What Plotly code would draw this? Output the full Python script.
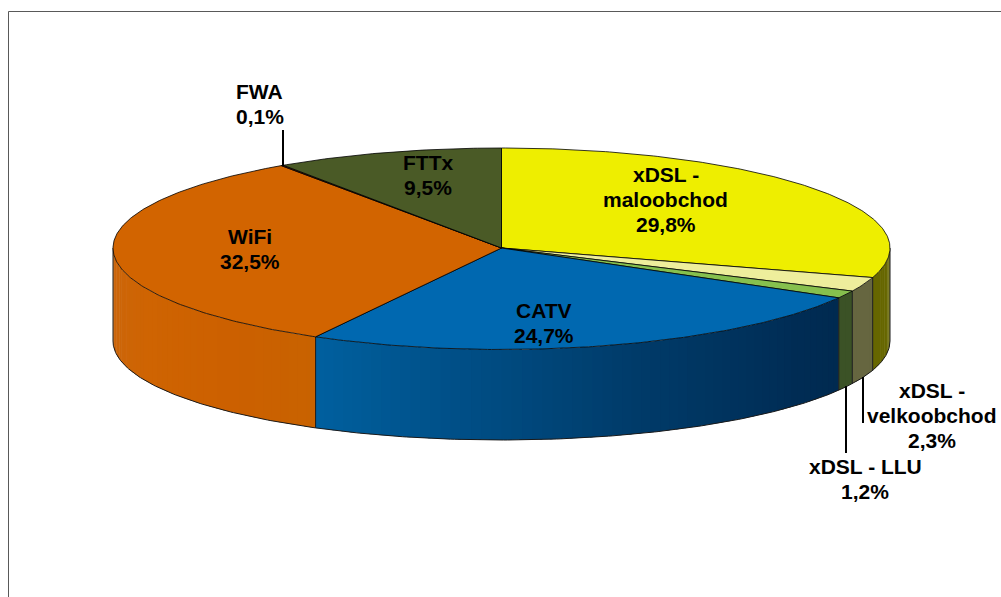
import numpy as np
import plotly.graph_objects as go

# --- data -----------------------------------------------------------------
categories = ["xDSL - maloobchod", "xDSL - velkoobchod", "xDSL - LLU", "CATV", "WiFi", "FWA", "FTTx"]
values = [29.8, 2.3, 1.2, 24.7, 32.5, 0.1, 9.5]
label_lines = [["xDSL -", "maloobchod"], ["xDSL -", "velkoobchod"], ["xDSL - LLU"], ["CATV"], ["WiFi"], ["FWA"], ["FTTx"]]

# --- style / layout -------------------------------------------------------
top_colors = ["#EEEE00", "#EEEE9C", "#86C04E", "#0068B0", "#D26400", "#8B1A00", "#4A5A26"]
side_stops = [
    [(0, "#666600"), (1, "#666600")],
    [(0, "#666640"), (1, "#666640")],
    [(0, "#3B5226"), (1, "#3B5226")],
    [(0, "#002A50"), (0.12, "#002C54"), (0.45, "#003B69"), (0.75, "#004F87"), (1, "#00609F")],
    [(0, "#C86200"), (0.25, "#CC6000"), (0.6, "#CF6402"), (1, "#C9660E")],
    [(0, "#8B1A00"), (1, "#8B1A00")],
    [(0, "#4A5A26"), (1, "#4A5A26")],
]
label_xy = [(665.5, 199.5), (932, 415), (865, 479), (544, 322.5), (250, 248.5), (259.5, 103.5), (428, 174.5)]
leaders = {"FWA": (283, 130, 166), "xDSL - velkoobchod": (863, 377, 423), "xDSL - LLU": (846, 386, 453)}
CX, CY, RX, RY, DEPTH = 501.5, 248.0, 388.5, 100.0, 90.5
LINE_PITCH = 25
FONT = dict(family="Liberation Sans", size=21, color="#000000")


def px(t):
    return CX + RX * np.sin(t)


def py(t):
    # slight perspective: the near half of the rim is a little deeper
    c = -np.cos(t)
    return CY + RY * c + np.where(c > 0, 1.5 * c ** 3, 0)


def pyb(t):
    return py(t) + DEPTH + 2.5 * np.sin(t) ** 2


def hex_rgb(h):
    return np.array([int(h[i:i + 2], 16) for i in (1, 3, 5)], float)


def stop_color(stops, f):
    pos = [s[0] for s in stops]
    cols = np.array([hex_rgb(s[1]) for s in stops])
    r, g, b = (np.interp(f, pos, cols[:, k]) for k in range(3))
    return f"rgb({r:.0f},{g:.0f},{b:.0f})"


total = sum(values)
edges = np.concatenate([[0], np.cumsum(values)]) / total * 2 * np.pi
fig = go.Figure()


def poly(xs, ys, fill, line=None, width=1):
    fig.add_trace(go.Scatter(
        x=xs, y=ys, mode="lines", fill="toself" if fill else None,
        fillcolor=fill, hoverinfo="skip", showlegend=False,
        line=dict(color=line or "rgba(0,0,0,0)", width=width if line else 0),
    ))


# side wall: only the near half (90 deg .. 270 deg) is visible
for i in range(len(values)):
    a, b = max(edges[i], np.pi / 2), min(edges[i + 1], 3 * np.pi / 2)
    if b <= a:
        continue
    n = max(1, int((b - a) / np.radians(1.5)))
    grid = np.linspace(a, b, n + 1)
    for j in range(n):
        s0, s1 = grid[j], min(grid[j + 1] + np.radians(0.4), b)
        t = np.linspace(s0, s1, 6)
        f = (j + 0.5) / n
        xs = np.concatenate([px(t), px(t[::-1])])
        ys = np.concatenate([py(t), pyb(t[::-1])])
        poly(list(xs) + [xs[0]], list(ys) + [ys[0]], stop_color(side_stops[i], f))

# side outline
t = np.linspace(np.pi / 2, 3 * np.pi / 2, 300)
poly(px(t), pyb(t), None, "#1A1A1A", 1)
for e in [np.pi / 2, 3 * np.pi / 2] + [x for x in edges if np.pi / 2 < x < 3 * np.pi / 2]:
    poly([px(e), px(e)], [float(py(e)), float(pyb(e))], None, "#1A1A1A", 1)

# top face
for i in range(len(values)):
    t = np.linspace(edges[i], edges[i + 1], max(3, int((edges[i + 1] - edges[i]) / 0.01)))
    xs = np.concatenate([[CX], px(t), [CX]])
    ys = np.concatenate([[CY], py(t), [CY]])
    poly(xs, ys, top_colors[i], "#000000", 0.8)

# leader lines
for name, (x, y0, y1) in leaders.items():
    poly([x, x], [y0, y1], None, "#000000", 2)

annotations = []
for lines, v, (x, y) in zip(label_lines, values, label_xy):
    rows = lines + [f"{v:.1f}%".replace(".", ",")]
    for k, row in enumerate(rows):
        annotations.append(dict(
            x=x, y=y + (k - (len(rows) - 1) / 2) * LINE_PITCH, xref="x", yref="y",
            text=f"<b>{row}</b>", showarrow=False, font=FONT,
            xanchor="center", yanchor="middle",
        ))

fig.update_layout(
    width=1001, height=597, margin=dict(l=0, r=0, t=0, b=0),
    paper_bgcolor="#FFFFFF", plot_bgcolor="#FFFFFF", showlegend=False,
    xaxis=dict(range=[0, 1001], visible=False, fixedrange=True),
    yaxis=dict(range=[597, 0], visible=False, fixedrange=True),
    annotations=annotations,
    shapes=[
        dict(type="line", xref="x", yref="y", x0=8.5, y0=11.5, x1=1001, y1=11.5, line=dict(color="#595959", width=1)),
        dict(type="line", xref="x", yref="y", x0=8.5, y0=11.5, x1=8.5, y1=597, line=dict(color="#595959", width=1)),
    ],
)

fig.write_html(
    "out.html",
    config=dict(displayModeBar=False),
    post_script="document.body.style.margin='0';document.body.style.overflow='hidden';",
)
